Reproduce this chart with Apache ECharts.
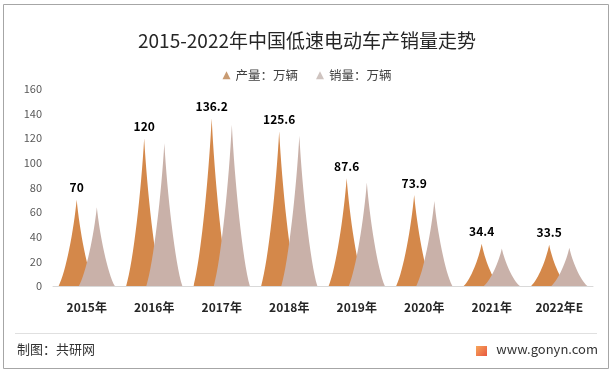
<!DOCTYPE html>
<html>
<head>
<meta charset="utf-8">
<script src="https://cdn.jsdelivr.net/npm/echarts@6/dist/echarts.min.js"></script>
<style>
html,body{margin:0;padding:0;background:#fff;}
#c{width:614px;height:373px;}
</style>
</head>
<body>
<div id="c"></div>
<script>
var categories = ['2015年','2016年','2017年','2018年','2019年','2020年','2021年','2022年E'];
var production = [70, 120, 136.2, 125.6, 87.6, 73.9, 34.4, 33.5];
var sales = [64, 116, 131, 122, 84, 69, 30.5, 31];
var yTicks = [0, 20, 40, 60, 80, 100, 120, 140, 160];
var seriesNames = ['产量：万辆', '销量：万辆'];

var spike = 'path://M0,10 C2,8.4 4.2,3.5 5,0 C5.8,3.5 8,8.4 10,10 Z';
var font = '"Noto Sans CJK SC", "Microsoft YaHei", sans-serif';

var chart = echarts.init(document.getElementById('c'), null, {renderer: 'canvas'});
chart.setOption({
  backgroundColor: '#ffffff',
  animation: false,
  title: {
    text: '2015-2022年中国低速电动车产销量走势',
    left: 'center',
    top: 26,
    textStyle: {fontFamily: font, fontSize: 19, fontWeight: 'normal', color: '#262626'}
  },
  legend: {
    top: 64,
    left: 'center',
    itemWidth: 8,
    itemHeight: 8,
    itemGap: 18,
    icon: 'triangle',
    textStyle: {fontFamily: font, fontSize: 12.5, color: '#404040'},
    data: [
      {name: seriesNames[0], itemStyle: {color: '#C99B72'}},
      {name: seriesNames[1], itemStyle: {color: '#CFC4C0'}}
    ]
  },
  grid: {left: 53, right: 21, top: 89, bottom: 87, containLabel: false},
  xAxis: {
    type: 'category',
    data: categories,
    axisLine: {show: true, lineStyle: {color: '#D9D9D9'}},
    axisTick: {show: false},
    axisLabel: {fontFamily: font, fontSize: 12, fontWeight: 'bold', color: '#262626', margin: 15}
  },
  yAxis: {
    type: 'value',
    min: yTicks[0],
    max: yTicks[yTicks.length - 1],
    interval: yTicks[1] - yTicks[0],
    axisLine: {show: false},
    axisTick: {show: false},
    splitLine: {show: false},
    axisLabel: {fontFamily: font, fontSize: 11, color: '#595959', margin: 11}
  },
  series: [
    {
      name: seriesNames[0],
      type: 'pictorialBar',
      symbol: spike,
      barWidth: 36,
      barGap: '-44%',
      itemStyle: {color: '#D4884A'},
      label: {
        show: true,
        position: 'top',
        distance: 6,
        fontFamily: font,
        fontSize: 12,
        fontWeight: 'bold',
        color: '#000'
      },
      data: production
    },
    {
      name: seriesNames[1],
      type: 'pictorialBar',
      symbol: spike,
      barWidth: 36,
      barGap: '-44%',
      itemStyle: {color: '#C9B1A9'},
      data: sales
    }
  ],
  graphic: [
    {type: 'rect', shape: {x: 3.5, y: 4.5, width: 605, height: 364}, style: {fill: 'none', stroke: '#A6A6A6', lineWidth: 1}, silent: true},
    {type: 'line', shape: {x1: 15, y1: 333.5, x2: 597, y2: 333.5}, style: {stroke: '#E0E0E0', lineWidth: 1}, silent: true},
    {type: 'text', left: 17, top: 343, style: {text: '制图：共研网', fontFamily: font, fontSize: 13, fill: '#333'}},
    {type: 'rect', shape: {x: 476, y: 346, width: 11, height: 10}, style: {fill: new echarts.graphic.LinearGradient(0, 0, 1, 1, [{offset: 0, color: '#F6A65A'}, {offset: 1, color: '#E9573F'}])}},
    {type: 'text', right: 16, top: 343, style: {text: 'www.gonyn.com', fontFamily: font, fontSize: 13, fill: '#333'}}
  ]
});
</script>
</body>
</html>
